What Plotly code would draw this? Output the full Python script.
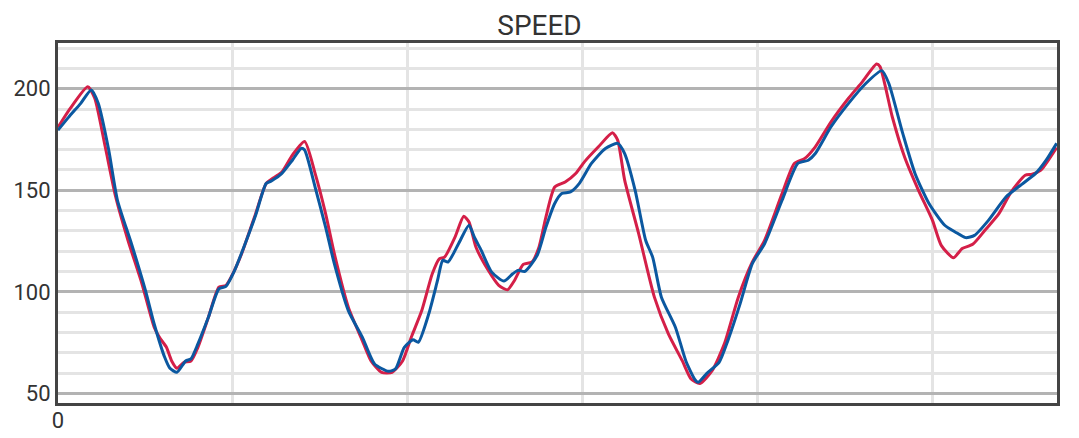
import plotly.graph_objects as go

red_x = [0, 7, 17, 21, 27, 33, 40, 48, 55, 58, 62, 65, 68, 72, 76, 80, 86, 92, 96, 99,
         105, 113, 119, 124, 128, 134, 141, 147, 153, 158, 166, 174, 179, 185, 191, 197,
         202, 208, 214, 218, 221, 227, 232, 235, 239, 246, 252, 257, 261, 266, 271, 275,
         279, 284, 290, 296, 301, 309, 317, 320, 324, 332, 341, 349, 357, 362, 367, 374,
         381, 389, 397, 404, 414, 421, 427, 433, 442, 452, 460, 468, 470, 477, 484, 492,
         500, 505, 512, 517, 523, 530, 538, 545, 553, 557, 562, 571]
red_y = [181, 190.3, 201, 195.3, 171.4, 146.7, 125.4, 104, 82.6, 77.6, 72.7, 66, 62.4, 65.3, 66, 72.7, 87.5, 102.3, 103.2, 107.3,
         118.8, 138.5, 153.3, 156.6, 159, 167.3, 174, 158.3, 138.5, 118.8, 92.5, 76, 66, 60.4, 60.4, 66,
         77.7, 90.8, 108.9, 116.3, 117.1, 127, 137.2, 134.4, 122, 110.6, 103.2, 101, 105.6, 113.5, 114.7, 122,
         136.9, 151.6, 154.1, 158.3, 164, 171.4, 178.3, 174.7, 155, 128.7, 97.4, 79.3, 66, 57.1, 54.9, 61.2,
         74.4, 97.4, 114.7, 125.4, 148.4, 163.2, 165.7, 171.4, 183.7, 195.3, 203.5, 212.2, 210.9, 186.2, 166.5, 150,
         135.2, 122.9, 116.8, 121.3, 123.4, 130.3, 138.5, 149.2, 157.4, 157.9, 159.9, 171]

blue_x = [0, 6, 13, 19, 23, 29, 34, 42, 50, 55, 61, 64, 68, 73, 76, 80, 86, 92, 96, 101,
          107, 113, 119, 122, 128, 134, 139, 141, 147, 153, 158, 166, 174, 181, 189, 193, 198,
          203, 206, 212, 217, 220, 223, 229, 235, 238, 242, 248, 255, 260, 263, 267, 274, 279,
          284, 288, 293, 298, 305, 313, 320, 324, 330, 336, 340, 345, 353, 359, 364, 366, 371,
          378, 383, 390, 397, 404, 414, 423, 429, 433, 442, 452, 462, 471, 475, 483, 490, 498,
          507, 513, 519, 524, 532, 542, 549, 559, 565, 571]
blue_y = [179.6, 185.9, 192.8, 199.4, 192.8, 169.8, 145.1, 123.7, 100.7, 84.2, 67.8, 62.4, 60.4, 66, 67, 74.4, 87.5, 101.5, 102.7, 110.6,
          123.7, 137.7, 153.3, 154.6, 158.3, 164.8, 170.6, 169.8, 151.6, 131.9, 113.9, 90.8, 77.7, 64.5, 60.9, 62.1, 72.7,
          76.4, 75.2, 89.2, 105.6, 115.5, 114.7, 123.7, 132.8, 127, 120.4, 109.7, 105.3, 108.9, 110.6, 110.1, 118, 131.9,
          143.5, 148.4, 149.2, 153.3, 163.2, 170.6, 173.1, 168.1, 150, 125.4, 117.1, 97.4, 82.6, 66, 57.1, 55.5, 59.9,
          65.3, 76, 94.1, 113.9, 123.7, 145.1, 163.2, 164.8, 168.1, 181.3, 192.8, 202.7, 208.9, 202.7, 178, 158.3, 143.5,
          132.8, 129.5, 126.7, 127.8, 135.2, 146.7, 151.6, 158.3, 164.8, 173.1]

y_ticks = [50, 100, 150, 200]
x_ticks = [0, 100, 200, 300, 400, 500]
x_tick_text = ["0", "", "", "", "", ""]

fig = go.Figure()
fig.add_trace(go.Scatter(x=red_x, y=red_y, mode="lines",
                         line=dict(color="#d41f48", width=3, shape="spline", smoothing=0.6),
                         showlegend=False, name="A"))
fig.add_trace(go.Scatter(x=blue_x, y=blue_y, mode="lines",
                         line=dict(color="#0b58a0", width=3, shape="spline", smoothing=0.6),
                         showlegend=False, name="B"))

fig.update_layout(
    width=1079, height=438,
    margin=dict(l=58, r=22, t=43, b=35),
    paper_bgcolor="white", plot_bgcolor="white",
    font=dict(family="Roboto", size=22, color="#333333"),
    title=dict(text="SPEED", x=0.5, xref="container", xanchor="center",
               y=1 - 25 / 438, yref="container", yanchor="middle",
               font=dict(family="Roboto", size=28, color="#333333")),
    xaxis=dict(range=[0, 571.2], tickvals=x_ticks, ticktext=x_tick_text,
               showgrid=True, gridcolor="#e4e4e4", gridwidth=3,
               showline=True, linecolor="#444444", linewidth=3, mirror=True,
               zeroline=False, ticks="", fixedrange=True, automargin=False,
               ticklabelstandoff=-4),
    yaxis=dict(range=[45.3, 222.5], tickvals=y_ticks,
               showgrid=True, gridcolor="#b3b3b3", gridwidth=3,
               minor=dict(dtick=10, tick0=0, showgrid=True, gridcolor="#e4e4e4", gridwidth=3),
               showline=True, linecolor="#444444", linewidth=3, mirror=True,
               zeroline=False, ticks="", fixedrange=True, automargin=False),
)

fig.write_html("out.html", config={"displayModeBar": False},
               post_script="document.body.style.margin='0';")
